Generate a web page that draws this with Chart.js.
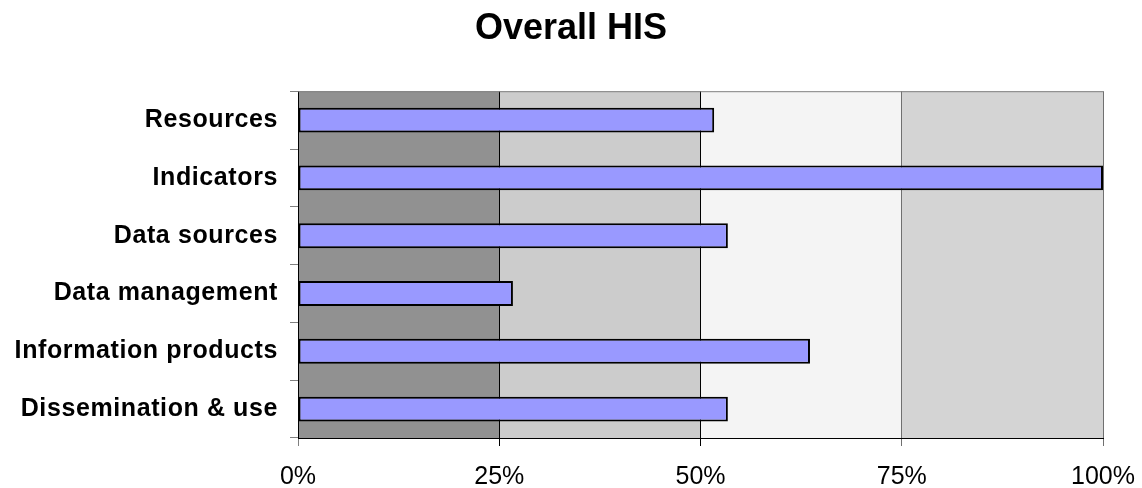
<!DOCTYPE html>
<html>
<head>
<meta charset="utf-8">
<script src="https://cdn.jsdelivr.net/npm/chart.js@4.4.1/dist/chart.umd.min.js"></script>
<style>
  html, body { margin: 0; padding: 0; background: #ffffff; }
  #wrap { width: 1142px; height: 488px; }
</style>
</head>
<body>
<div id="wrap"><canvas id="c" width="1142" height="488"></canvas></div>
<script>
const categories = ["Resources", "Indicators", "Data sources", "Data management", "Information products", "Dissemination & use"];
const scores = [51.7, 100, 53.4, 26.7, 63.6, 53.4];
const tickValues = [0, 25, 50, 75, 100];
const bandEdges = [0, 25, 50, 75, 100];
const bandColors = ["#919191", "#cccccc", "#f4f4f4", "#d4d4d4"];
const gridColors = ["#808080", "#000000", "#000000", "#707070", "#707070"];

const bandsPlugin = {
  id: "bands",
  beforeDraw(chart) {
    const { ctx, chartArea, scales } = chart;
    const x = scales.x;
    ctx.save();
    for (let i = 0; i < bandColors.length; i++) {
      const x0 = x.getPixelForValue(bandEdges[i]);
      const x1 = x.getPixelForValue(bandEdges[i + 1]);
      ctx.fillStyle = bandColors[i];
      ctx.fillRect(x0, chartArea.top, x1 - x0, chartArea.bottom - chartArea.top);
    }
    ctx.restore();
  },
  afterDatasetsDraw(chart) {
    chart.ctx.letterSpacing = "0.6px";
  },
  afterDraw(chart) {
    const { ctx, chartArea } = chart;
    ctx.letterSpacing = "0px";
    ctx.save();
    ctx.strokeStyle = "#808080";
    ctx.lineWidth = 1;
    ctx.beginPath();
    ctx.moveTo(chartArea.left, chartArea.top + 0.5);
    ctx.lineTo(chartArea.right, chartArea.top + 0.5);
    ctx.stroke();
    ctx.restore();
  }
};

new Chart(document.getElementById("c"), {
  type: "bar",
  data: {
    labels: categories,
    datasets: [{
      data: scores,
      backgroundColor: "#9999ff",
      borderColor: "#000000",
      borderWidth: 2,
      borderSkipped: false,
      categoryPercentage: 1,
      barPercentage: 0.43
    }]
  },
  options: {
    indexAxis: "y",
    responsive: false,
    animation: false,
    devicePixelRatio: 1,
    layout: { padding: 0 },
    plugins: {
      legend: { display: false },
      tooltip: { enabled: false },
      title: {
        display: true,
        text: "Overall HIS",
        color: "#000000",
        font: { family: "'Liberation Sans', Arial, sans-serif", size: 36, weight: "bold" },
        padding: { top: 7, bottom: 41 }
      }
    },
    scales: {
      x: {
        type: "linear",
        min: 0,
        max: 100,
        afterBuildTicks(scale) { scale.ticks = tickValues.map(v => ({ value: v })); },
        afterFit(scale) { scale.height = 50; scale.paddingRight = 39; scale.paddingLeft = 0; },
        ticks: {
          callback: v => v + "%",
          color: "#000000",
          font: { family: "'Liberation Sans', Arial, sans-serif", size: 25 },
          padding: 16,
          maxRotation: 0
        },
        grid: {
          color: ctx => gridColors[ctx.index] || "#808080",
          tickColor: ctx => gridColors[ctx.index] || "#808080",
          tickLength: 8,
          lineWidth: 1
        },
        border: { display: true, color: "#000000", width: 1 }
      },
      y: {
        type: "category",
        afterFit(scale) { scale.width = 298; },
        ticks: {
          color: "#000000",
          font: { family: "'Liberation Sans', Arial, sans-serif", size: 25, weight: "bold" },
          padding: 12,
          z: 1
        },
        grid: {
          offset: true,
          drawOnChartArea: false,
          tickLength: 8,
          tickColor: "#808080",
          color: "#808080"
        },
        border: { display: true, color: "#000000", width: 1 }
      }
    }
  },
  plugins: [bandsPlugin]
});
</script>
</body>
</html>
